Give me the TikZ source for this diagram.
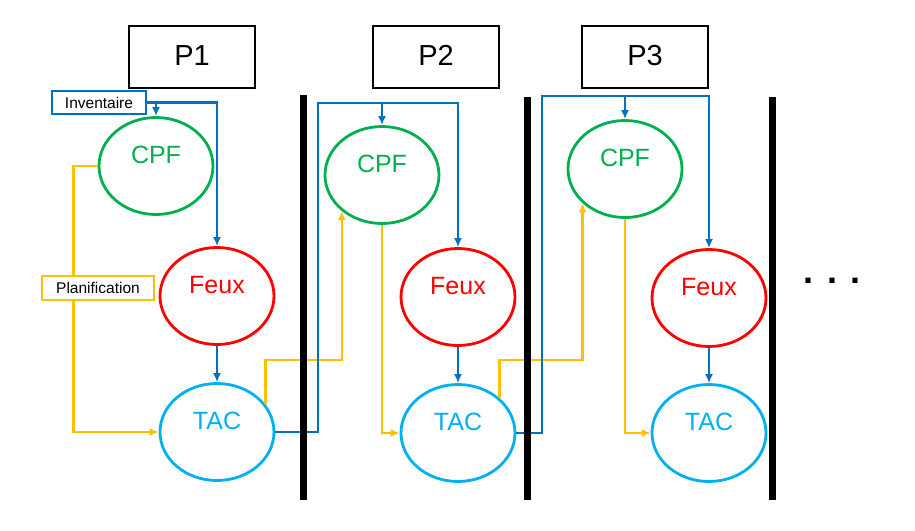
\documentclass[tikz,border=0pt]{standalone}
\usepackage{fontspec}
\setmainfont{Liberation Sans}
\usepackage{xcolor}
\usepackage{tikz}
\usetikzlibrary{arrows.meta,shapes.geometric}

\definecolor{bleu}{HTML}{0070C0}
\definecolor{jaune}{HTML}{FFC000}
\definecolor{vert}{HTML}{00B050}
\definecolor{rouge}{HTML}{FF0000}
\definecolor{ciel}{HTML}{00B0F0}

\begin{document}
\begin{tikzpicture}[x=1pt,y=-1pt,>={Latex[length=9pt,width=8pt]},
        etat/.style={ellipse,line width=2.8pt,minimum width=114pt,minimum height=97pt,inner sep=0pt,
            font=\fontsize{25}{30}\selectfont,text height=18pt,text depth=24pt},
        cpf/.style={etat,draw=vert,text=vert},
        feux/.style={etat,draw=rouge,text=rouge},
        tac/.style={etat,draw=ciel,text=ciel},
        periode/.style={draw,line width=2.8pt,minimum width=126pt,minimum height=62pt,inner sep=0pt,
            font=\fontsize{29}{34}\selectfont,text height=26pt,text depth=10pt},
        flux/.style={draw=bleu,line width=2.5pt},
        plan/.style={draw=jaune,line width=2.5pt},
        etiquette/.style={line width=2.5pt,fill=white,inner sep=0pt,minimum height=23pt,
            font=\fontsize{15.5}{18}\selectfont},
        barre/.style={line width=7pt}]
        \useasboundingbox (0,0) rectangle (915,530);
        \node[periode] (p1) at (192,57) {P1};
        \node[periode] (p2) at (436,57) {P2};
        \node[periode] (p3) at (645,57) {P3};
        \node[cpf] (cpf1) at (156,166) {CPF};
        \node[feux] (feux1) at (217,296) {Feux};
        \node[tac] (tac1) at (217,432) {TAC};
        \node[cpf] (cpf2) at (382,175) {CPF};
        \node[feux] (feux2) at (458,297) {Feux};
        \node[tac] (tac2) at (458,433) {TAC};
        \node[cpf] (cpf3) at (625,169) {CPF};
        \node[feux] (feux3) at (709,298) {Feux};
        \node[tac] (tac3) at (709,433) {TAC};
        \node[etiquette,draw=bleu,minimum width=94pt] (inv) at (99,102.5) {Inventaire};
        \coordinate (bus2) at (318,103);
        \coordinate (bus3) at (542,96);
        % periode 1
        \draw[flux,->] (inv.east) -| (feux1.north);
        \draw[flux,->] (inv.east -| cpf1.north) -- (cpf1.north);
        \draw[flux,->] (feux1) -- (tac1);
        \draw[plan,->] (cpf1.west) -- ++(-24,0) |- (tac1.west);
        \node[etiquette,draw=jaune,minimum width=112pt,minimum height=24pt] (planif) at (98,288) {Planification};
        \draw[plan,->] (tac1.30) -- ++(0,-44) -| (cpf2.222);
        \draw[flux,->] (tac1.east) -| (bus2) -| (feux2.north);
        \draw[flux,->] (bus2 -| cpf2.north) -- (cpf2.north);
        % periode 2
        \draw[flux,->] (feux2) -- (tac2);
        \draw[plan,->] (cpf2.south) |- (tac2.west);
        \draw[plan,->] (tac2.40) -- ++(0,-38) -| (cpf3.219);
        \draw[flux,->] (tac2.east) -| (bus3) -| (feux3.north);
        \draw[flux,->] (bus3 -| cpf3.north) -- (cpf3.north);
        % periode 3
        \draw[flux,->] (feux3) -- (tac3);
        \draw[plan,->] (cpf3.south) |- (tac3.west);
        \node (suite) at (832,281) {\fontsize{36}{40}\selectfont\bfseries . . .};
        % separations
        \draw[barre] (303,95) -- (303,500);
        \draw[barre] (527,97) -- (527,500);
        \draw[barre] (772,97) -- (772,500);
    \end{tikzpicture}
\end{document}
